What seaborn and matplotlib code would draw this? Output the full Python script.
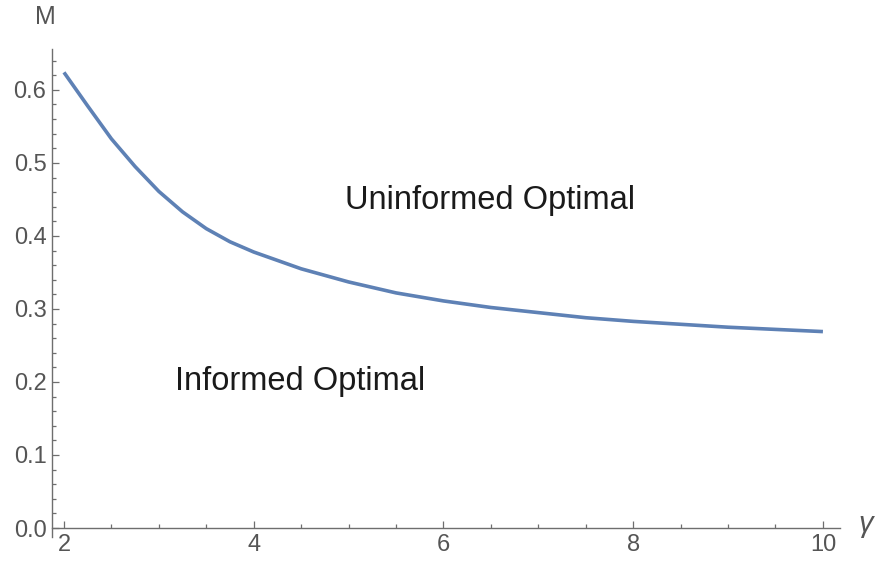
import numpy as np
import matplotlib
matplotlib.use("Agg")
import matplotlib.pyplot as plt
import seaborn as sns
from matplotlib.ticker import MultipleLocator

sns.set_style("white")
plt.rcParams["font.family"] = ["Liberation Sans", "DejaVu Sans"]

# curve
gamma = [2, 2.25, 2.5, 2.75, 3, 3.25, 3.5, 3.75, 4, 4.5, 5, 5.5, 6, 6.5,
         7, 7.5, 8, 8.5, 9, 9.5, 10]
m_val = [0.624, 0.578, 0.533, 0.495, 0.461, 0.433, 0.410, 0.392, 0.378, 0.355,
         0.337, 0.322, 0.311, 0.302, 0.295, 0.288, 0.283, 0.279, 0.275, 0.272, 0.269]
x_ticks = [2, 4, 6, 8, 10]
y_ticks = [0.0, 0.1, 0.2, 0.3, 0.4, 0.5, 0.6]

fig = plt.figure(figsize=(8.76, 5.61), dpi=100)
ax = fig.add_axes([52 / 876, 24 / 561, 788 / 876, 488 / 561])

sns.lineplot(x=gamma, y=m_val, ax=ax, color="#5E81B5", linewidth=2.6,
             solid_joinstyle="round", solid_capstyle="butt")

ax.set_xlim(1.874, 10.18)
ax.set_ylim(-0.0123, 0.656)
ax.set_xticks(x_ticks)
ax.set_yticks(y_ticks)
ax.set_xticklabels([str(t) for t in x_ticks])
ax.set_yticklabels([f"{t:.1f}" for t in y_ticks])
ax.xaxis.set_minor_locator(MultipleLocator(0.5))
ax.yaxis.set_minor_locator(MultipleLocator(0.02))

for s in ["top", "right"]:
    ax.spines[s].set_visible(False)
ax.spines["bottom"].set_position(("data", 0))
for s in ["bottom", "left"]:
    ax.spines[s].set_color("#6e6e6e")
    ax.spines[s].set_linewidth(1.0)

ax.tick_params(which="both", direction="in", bottom=True, left=True,
               color="#6e6e6e", labelcolor="#555555", labelsize=17, width=0.9)
ax.tick_params(which="major", length=5)
ax.tick_params(which="minor", length=3)
ax.tick_params(axis="x", pad=4)
ax.tick_params(axis="y", pad=4)

ax.text(6.49, 0.448, "Uninformed Optimal", fontsize=23.5, ha="center", va="center", color="#1a1a1a")
ax.text(4.49, 0.201, "Informed Optimal", fontsize=23.5, ha="center", va="center", color="#1a1a1a")

fig.text(45 / 876, 1 - 17 / 561, "M", fontsize=18, ha="center", va="center", color="#555555")
fig.text(866 / 876, 1 - 524 / 561, "γ", fontsize=21, ha="center", va="center", color="#555555",
         style="italic")

fig.savefig("out.png", dpi=100)
